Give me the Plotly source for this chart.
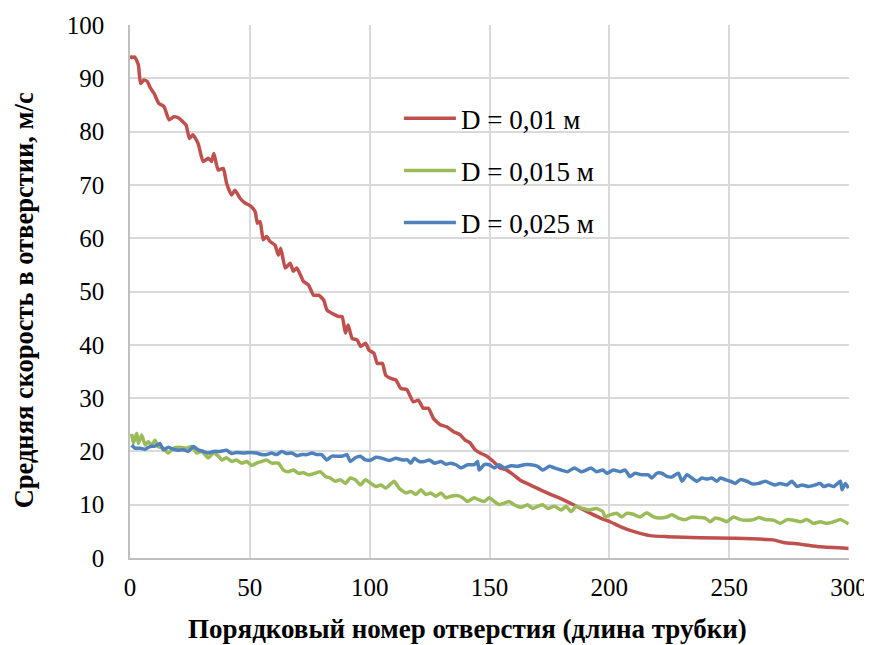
import plotly.graph_objects as go

# ---- data ----
red_x = [0, 0.7, 2, 3.5, 4.4, 5.8, 7.2, 8.6, 10, 12, 14.2, 16.3, 18.4, 20.5, 21.9, 23.4, 24.8, 26.2, 28.4,
         30.5, 32.6, 34, 35, 36.8, 38.9, 40.3, 42.4, 43.8, 45.9, 48, 50.1, 52.2, 53.2, 54.3, 55.6, 57, 58.4,
         60.5, 61.9, 62.9, 64.8, 66.8, 68.2, 69.6, 72.4, 74.5, 76.6, 78.7, 80.8, 82.2, 84.3, 87.1, 88.5, 89.9,
         91, 92.7, 94.8, 96.2, 98.3, 99.7, 101.8, 103.2, 105.3, 106.7, 108.8, 110.9, 113, 115.5, 118.2, 120.3,
         122.4, 124.5, 126.6, 129.4, 132.2, 135, 137.8, 139.8, 141.9, 144, 146.1, 148.9, 151.6, 154.4, 157.2,
         160, 162.8, 165.6, 169.8, 174, 179.5, 185.1, 190.7, 196.3, 200.3, 204.5, 210, 217, 224, 237.9, 251.8,
         268.5, 272.7, 279.7, 288, 299.8]
red_y = [94.2, 93.9, 94.0, 92.5, 89.0, 89.7, 89.4, 88.1, 87.2, 85.3, 84.7, 82.2, 82.8, 82.5, 81.9, 81.2, 78.7,
         79.4, 77.8, 74.4, 75.0, 74.4, 75.9, 72.8, 73.1, 70.3, 68.1, 69.0, 67.5, 66.6, 66.1, 65.0, 62.8, 63.1,
         59.7, 60.3, 59.4, 58.7, 56.8, 58.1, 54.4, 55.3, 53.8, 54.4, 51.9, 51.2, 49.3, 49.3, 48.4, 46.5, 45.9,
         45.3, 45.3, 42.2, 43.7, 41.2, 40.9, 39.7, 40.3, 39.0, 38.4, 36.5, 36.5, 34.3, 33.7, 33.4, 31.8, 31.6,
         29.3, 29.6, 28.1, 28.1, 26.2, 25.0, 24.6, 23.7, 23.1, 22.1, 21.6, 20.3, 19.7, 19.1, 18.1, 16.9, 16.5,
         15.6, 14.6, 14.0, 13.1, 12.2, 11.2, 10.0, 8.7, 7.5, 6.8, 5.9, 5.0, 4.2, 4.0, 3.8, 3.7, 3.4, 2.9, 2.6,
         2.1, 1.8]

green_x = [0.7, 1.4, 2.8, 3.5, 4.9, 6.3, 7.6, 9, 10.4, 11.8, 13.9, 16, 18.1, 20.9, 23.6, 25.7, 27.8, 29.9,
           32.7, 34.8, 36.9, 38.3, 40.3, 42.4, 44.5, 46.6, 48.7, 50.8, 52.8, 54.9, 57, 59.1, 61.9, 64, 66.1,
           68.2, 70.3, 72.4, 74.5, 77.3, 79.4, 81.5, 83.6, 85.7, 87.8, 89.9, 91.9, 94, 96.1, 98.2, 100.5, 102.6,
           104.7, 106.7, 110.2, 112.3, 115.1, 117.2, 119.3, 121.4, 123.4, 125.5, 127.6, 129.7, 131.8, 133.9,
           136.7, 138.8, 140.8, 143.6, 145.7, 147.8, 149.9, 152, 154.1, 156.2, 158.2, 160.3, 163.1, 165.9, 168,
           170.1, 172.2, 174.3, 177.1, 179.9, 182, 184, 186.1, 188.9, 191.7, 194.5, 197.3, 198.2, 200.3, 203.1,
           205.2, 207.3, 210, 212.8, 215.6, 218.4, 221.2, 224, 226.1, 228.8, 231.6, 234.4, 237.2, 240, 242.1,
           244.2, 247, 249, 251.8, 254.6, 258.1, 260.2, 262.3, 265.1, 268.5, 271.3, 274.1, 276.9, 279.7, 282.5,
           285.2, 288, 290.8, 293.6, 296.4, 299.8]
green_y = [23.3, 21.5, 23.4, 21.5, 23.1, 21.2, 21.8, 21.2, 22.1, 20.9, 20.6, 19.7, 20.6, 20.8, 20.6, 20.9,
           19.7, 20.0, 18.8, 19.7, 19.1, 18.4, 18.8, 18.1, 18.4, 17.8, 18.1, 17.4, 17.8, 18.1, 18.4, 17.8, 17.8,
           16.5, 16.2, 16.5, 15.9, 16.0, 15.6, 15.9, 16.2, 15.3, 15.0, 14.4, 14.7, 14.0, 15.0, 14.7, 13.7, 14.7,
           14.0, 13.4, 13.7, 13.1, 14.4, 13.1, 12.2, 12.5, 11.9, 12.8, 11.9, 12.2, 11.6, 12.2, 11.3, 11.6, 11.7,
           11.3, 10.6, 11.3, 10.9, 10.6, 11.3, 10.6, 10.0, 10.3, 10.6, 10.0, 9.5, 10.0, 9.3, 9.7, 10.0, 9.3, 9.7,
           9.0, 9.7, 8.7, 9.7, 9.3, 9.0, 9.3, 8.7, 7.7, 8.1, 8.4, 7.7, 8.4, 8.2, 7.7, 8.5, 7.7, 7.5, 7.7, 8.1,
           7.5, 7.2, 7.7, 7.6, 7.5, 6.8, 7.5, 7.2, 6.8, 7.7, 7.2, 7.1, 7.2, 7.6, 7.2, 7.1, 6.5, 7.2, 7.1, 6.8,
           7.2, 6.5, 6.8, 6.5, 6.8, 7.2, 6.4]

blue_x = [0.7, 2.1, 4.2, 6.3, 8.3, 10.4, 12.5, 13.9, 16, 18.1, 20.2, 22.2, 24.3, 26.4, 28.5, 30.6, 32.7, 34.8,
          37.5, 40.3, 42.4, 44.5, 47.3, 50.1, 52.8, 54.9, 57, 59.1, 61.2, 63.3, 65.4, 67.5, 69.6, 71.7, 73.8,
          75.9, 77.9, 80, 82.1, 84.2, 86.3, 88.4, 90.5, 91.9, 94, 96.1, 98.2, 100.5, 102.6, 105.3, 108.1, 110.9,
          113.7, 115.8, 117.2, 118.6, 120.7, 122.8, 124.9, 127, 129.8, 131.8, 133.9, 136, 138.1, 140.9, 143.6,
          145, 145.7, 147.8, 149.9, 152, 154.1, 156.2, 159, 161.7, 164.5, 167.3, 170.1, 172.2, 175, 177.1,
          179.9, 182.6, 185.4, 188.2, 190.3, 192.4, 194.5, 197.3, 198.9, 201.7, 204.5, 206.6, 208.6, 210.7,
          213.5, 216.3, 217.7, 219.8, 221.9, 224, 226.1, 228.8, 230.3, 232.4, 234.4, 236.5, 238.6, 240.7, 242.8,
          244.9, 246.3, 248.4, 250.5, 252.6, 254.6, 257.4, 259.5, 262.3, 265.1, 267.2, 269.2, 271.3, 274.1,
          276.2, 278.3, 280.4, 283.2, 285.9, 288, 289.4, 291.5, 293.6, 296.4, 297.1, 298.5, 299.8]
blue_y = [21.2, 20.6, 20.6, 20.4, 20.9, 21.0, 21.5, 20.3, 20.8, 20.4, 20.2, 20.3, 20.0, 20.9, 20.3, 20.0,
          19.7, 20.0, 20.0, 20.2, 19.6, 19.8, 19.7, 19.8, 19.7, 19.4, 19.4, 19.7, 19.4, 20.0, 19.6, 19.7, 19.2,
          19.4, 19.4, 19.7, 19.4, 19.4, 18.4, 19.1, 19.1, 19.1, 19.4, 18.1, 18.8, 19.1, 18.4, 18.4, 18.9, 18.7,
          18.3, 18.7, 18.4, 18.4, 17.8, 18.7, 18.1, 18.1, 18.4, 17.8, 18.1, 17.6, 17.8, 17.5, 16.9, 17.5, 17.5,
          18.1, 16.5, 17.5, 17.5, 16.9, 17.5, 16.9, 17.3, 17.2, 17.5, 17.5, 17.2, 16.5, 17.2, 16.9, 16.5, 16.2,
          16.9, 16.2, 16.5, 16.9, 16.2, 16.5, 15.9, 16.5, 16.2, 16.5, 15.3, 15.9, 15.6, 15.6, 15.0, 15.9, 15.9,
          15.3, 15.2, 15.9, 14.4, 15.6, 15.0, 14.4, 15.0, 14.8, 15.0, 14.4, 15.0, 14.7, 14.4, 14.0, 14.7, 14.4,
          13.9, 14.0, 14.4, 14.0, 13.7, 14.0, 13.7, 14.4, 13.4, 13.7, 13.4, 13.7, 14.0, 13.4, 13.7, 13.4, 14.4,
          12.8, 14.0, 13.1]

series_names = ["D = 0,01 м", "D = 0,015 м", "D = 0,025 м"]
x_ticks = [0, 50, 100, 150, 200, 250, 300]
y_ticks = [0, 10, 20, 30, 40, 50, 60, 70, 80, 90, 100]
x_title = "Порядковый номер отверстия (длина трубки)"
y_title = "Средняя скорость в отверстии, м/с"

colors = ["#C0504D", "#9BBB59", "#4F81BD"]
FONT = "Liberation Serif"

fig = go.Figure()
for i, (xs, ys) in enumerate([(red_x, red_y), (green_x, green_y), (blue_x, blue_y)]):
    fig.add_trace(go.Scatter(x=xs, y=ys, mode="lines", name=series_names[i],
                             legendgroup=f"g{i}",
                             line=dict(color=colors[i], width=3.5, shape="spline", smoothing=0.5)))

# the page has an 8px body margin, so the figure is 864x637 drawn at (8,8)
fig.update_layout(
    width=864, height=637,
    margin=dict(l=122, r=23, t=17, b=87),
    paper_bgcolor="white", plot_bgcolor="white",
    font=dict(family=FONT, color="black", size=24),
    showlegend=True,
    legend=dict(x=0.374, y=0.87, xanchor="left", yanchor="top",
                bgcolor="rgba(0,0,0,0)", font=dict(size=27, family=FONT),
                tracegroupgap=14, itemwidth=52),
)
fig.update_xaxes(range=[0, 300], tickvals=x_ticks, showgrid=True, gridcolor="#d9d9d9", gridwidth=1.5,
                 showline=True, linecolor="#bfbfbf", linewidth=1.5, zeroline=False, automargin=False,
                 ticks="", tickfont=dict(size=25, family=FONT), ticklabelstandoff=6)
fig.update_yaxes(range=[0, 100], tickvals=y_ticks, showgrid=True, gridcolor="#d9d9d9", gridwidth=1.5,
                 showline=True, linecolor="#bfbfbf", linewidth=1.5, zeroline=False, automargin=False,
                 ticks="", tickfont=dict(size=25, family=FONT), ticklabelstandoff=19)

# axis titles (placed as in the reference, slightly off-centre)
fig.add_annotation(text=f"<b>{x_title}</b>", xref="paper", yref="paper", x=0.469, y=-0.1325,
                   xanchor="center", yanchor="middle", showarrow=False, borderpad=0,
                   font=dict(size=27, family=FONT, color="black"))
fig.add_annotation(text=f"<b>{y_title}</b>", xref="paper", yref="paper", x=-0.147, y=0.484,
                   xanchor="center", yanchor="middle", showarrow=False, textangle=-90, borderpad=0,
                   font=dict(size=26.5, family=FONT, color="black"))

fig.write_html("out.html")
